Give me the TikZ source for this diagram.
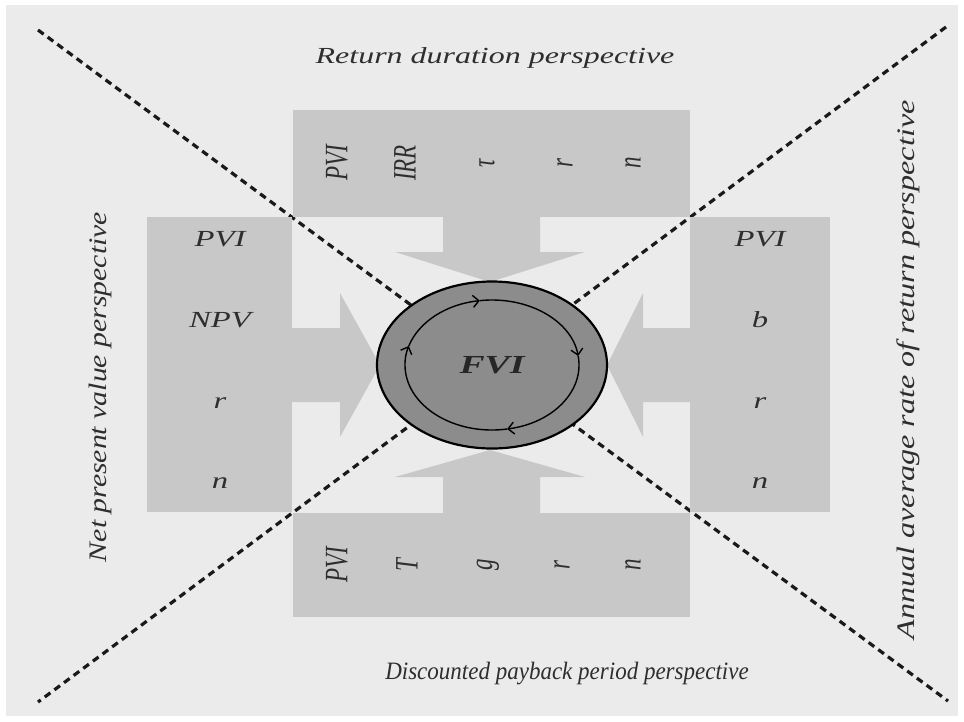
\documentclass[tikz,border=0pt]{standalone}
\usepackage{fontspec}
\setmainfont{Liberation Serif}
\usetikzlibrary{arrows.meta,shapes.geometric}
\definecolor{bg}{HTML}{EBEBEB}
\definecolor{boxc}{HTML}{C8C8C8}
\definecolor{ringc}{HTML}{8C8C8C}
\definecolor{txt}{HTML}{2E2E2E}
\begin{document}
\begin{tikzpicture}[x=1pt,y=-1pt,
  boxstyle/.style={fill=boxc, draw=none, inner sep=0pt},
  item/.style={font=\fontsize{23}{23}\selectfont\itshape, text=txt, inner sep=0pt},
  hitem/.style={item, xscale=1.42},
  vitem/.style={item, xscale=1.42, rotate=90},
  titletext/.style={font=\fontsize{23}{23}\selectfont\itshape, text=txt, inner sep=0pt},
  diag/.style={line width=3.2pt, dash pattern=on 7pt off 5pt, draw=black!90},
  loopline/.style={line width=1.4pt, -{Straight Barb[length=6pt,width=12pt,line width=1.4pt]}},
  blockarrow/.style={fill=boxc, draw=none}
]
\useasboundingbox (0,0) rectangle (964,721);
\fill[white] (0,0) rectangle (964,721);
\fill[bg] (6,5) rectangle (958,716);

% diagonals
\coordinate (d1s) at (38,30); \coordinate (d1e) at (948,701);
\coordinate (d2s) at (946,27); \coordinate (d2e) at (38,702);
\draw[diag] (d1s) -- (d1e);
\draw[diag] (d2s) -- (d2e);

% boxes
\node[boxstyle, minimum width=397, minimum height=107] (top) at (491.5,163.5) {};
\node[boxstyle, minimum width=145, minimum height=295] (left) at (219.5,364.5) {};
\node[boxstyle, minimum width=140, minimum height=295] (right) at (760,364.5) {};
\node[boxstyle, minimum width=397, minimum height=104] (bottom) at (491.5,565) {};

% block arrows
\fill[blockarrow] (443,216) -- (540,216) -- (540,252) -- (585,252) -- (490,282) -- (395,252) -- (443,252) -- cycle;
\fill[blockarrow] (291,328) -- (340,328) -- (340,293) -- (380,365) -- (340,437) -- (340,402) -- (291,402) -- cycle;
\fill[blockarrow] (691,328) -- (643,328) -- (643,293) -- (607,365) -- (643,437) -- (643,402) -- (691,402) -- cycle;
\fill[blockarrow] (443,514) -- (540,514) -- (540,477) -- (585,477) -- (490,450) -- (395,477) -- (443,477) -- cycle;

% central ellipse
\node[draw=black, line width=2.2pt, fill=ringc, ellipse, minimum width=230, minimum height=167, inner sep=0pt] (fvi) at (492,365) {};
\begin{scope}[shift={(fvi.center)}]
\draw[loopline] (-163:87 and 65) arc[start angle=-163, end angle=-98, x radius=87, y radius=65];
\draw[loopline] (-98:87 and 65) arc[start angle=-98, end angle=-8, x radius=87, y radius=65];
\draw[loopline] (-8:87 and 65) arc[start angle=-8, end angle=80, x radius=87, y radius=65];
\draw[loopline] (80:87 and 65) arc[start angle=80, end angle=197, x radius=87, y radius=65];
\end{scope}
\node[font=\fontsize{26}{26}\selectfont\bfseries\itshape, text=black!85, inner sep=0pt, xscale=1.45] (fvil) at (fvi.center) {FVI};

% top box items
\node[vitem] (t1) at (337,163) {PVI};
\node[vitem] (t2) at (405,163) {IRR};
\node[vitem] (t3) at (487,163) {τ};
\node[vitem] (t4) at (565,163) {r};
\node[vitem] (t5) at (633,163) {n};
% bottom box items
\node[vitem] (b1) at (337,565) {PVI};
\node[vitem] (b2) at (407,565) {T};
\node[vitem] (b3) at (488,565) {g};
\node[vitem] (b4) at (562,565) {r};
\node[vitem] (b5) at (633,565) {n};
% left box items
\node[hitem] (l1) at (220,239) {PVI};
\node[hitem] (l2) at (220,320) {NPV};
\node[hitem] (l3) at (220,403) {r};
\node[hitem] (l4) at (220,483) {n};
% right box items
\node[hitem] (r1) at (760,239) {PVI};
\node[hitem] (r2) at (760,320) {b};
\node[hitem] (r3) at (760,403) {r};
\node[hitem] (r4) at (760,483) {n};

% perspective titles
\node[titletext, xscale=1.39] (ttl) at (495,58) {Return duration perspective};
\node[titletext, font=\fontsize{25}{25}\selectfont\itshape, xscale=0.92] (btl) at (567,674) {Discounted payback period perspective};
\node[titletext, font=\fontsize{24}{24}\selectfont\itshape, xscale=1.05, yscale=1.24, rotate=90] (ltl) at (100,387) {Net present value perspective};
\node[titletext, font=\fontsize{24}{24}\selectfont\itshape, xscale=1.05, yscale=1.34, rotate=90] (rtl) at (908,370) {Annual average rate of return perspective};
\end{tikzpicture}
\end{document}
